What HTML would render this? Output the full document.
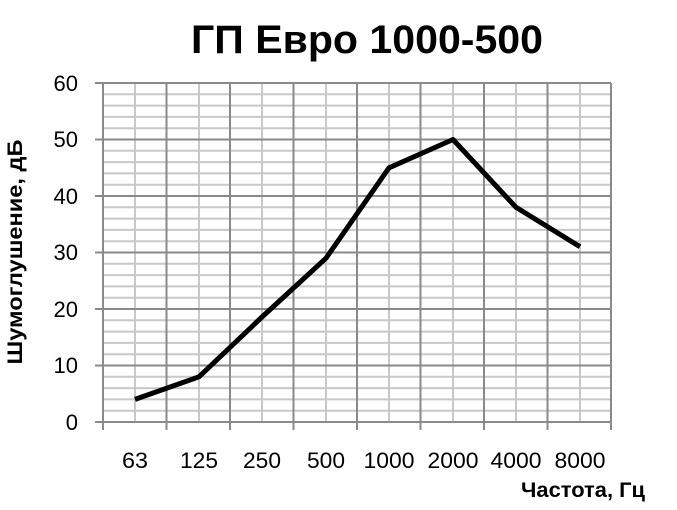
<!DOCTYPE html>
<html><head><meta charset="utf-8"><style>body{margin:0;background:#fff}svg{display:block}</style></head><body>
<svg width="677" height="510" xmlns="http://www.w3.org/2000/svg" font-family="Liberation Sans, sans-serif">
<text x="367" y="53" font-size="40" font-weight="bold" text-anchor="middle" textLength="352" lengthAdjust="spacingAndGlyphs">ГП Евро 1000-500</text>
<g stroke="#c8c8c8" stroke-width="2">
<line x1="103" x2="611" y1="94.3" y2="94.3"/><line x1="103" x2="611" y1="105.6" y2="105.6"/><line x1="103" x2="611" y1="116.9" y2="116.9"/><line x1="103" x2="611" y1="128.2" y2="128.2"/>
<line x1="103" x2="611" y1="150.8" y2="150.8"/><line x1="103" x2="611" y1="162.1" y2="162.1"/><line x1="103" x2="611" y1="173.4" y2="173.4"/><line x1="103" x2="611" y1="184.7" y2="184.7"/>
<line x1="103" x2="611" y1="207.3" y2="207.3"/><line x1="103" x2="611" y1="218.6" y2="218.6"/><line x1="103" x2="611" y1="229.9" y2="229.9"/><line x1="103" x2="611" y1="241.2" y2="241.2"/>
<line x1="103" x2="611" y1="263.8" y2="263.8"/><line x1="103" x2="611" y1="275.1" y2="275.1"/><line x1="103" x2="611" y1="286.4" y2="286.4"/><line x1="103" x2="611" y1="297.7" y2="297.7"/>
<line x1="103" x2="611" y1="320.3" y2="320.3"/><line x1="103" x2="611" y1="331.6" y2="331.6"/><line x1="103" x2="611" y1="342.9" y2="342.9"/><line x1="103" x2="611" y1="354.2" y2="354.2"/>
<line x1="103" x2="611" y1="376.8" y2="376.8"/><line x1="103" x2="611" y1="388.1" y2="388.1"/><line x1="103" x2="611" y1="399.4" y2="399.4"/><line x1="103" x2="611" y1="410.7" y2="410.7"/>
<line y1="83" y2="422" x1="135" x2="135"/><line y1="83" y2="422" x1="199" x2="199"/><line y1="83" y2="422" x1="262" x2="262"/><line y1="83" y2="422" x1="326" x2="326"/><line y1="83" y2="422" x1="389" x2="389"/><line y1="83" y2="422" x1="453" x2="453"/><line y1="83" y2="422" x1="516" x2="516"/><line y1="83" y2="422" x1="580" x2="580"/>
</g>
<g stroke="#8a8a8a" stroke-width="2">
<line x1="95" x2="611" y1="83" y2="83"/><line x1="95" x2="611" y1="139.5" y2="139.5"/><line x1="95" x2="611" y1="196" y2="196"/><line x1="95" x2="611" y1="252.5" y2="252.5"/><line x1="95" x2="611" y1="309" y2="309"/><line x1="95" x2="611" y1="365.5" y2="365.5"/><line x1="95" x2="611" y1="422" y2="422"/>
<line y1="83" y2="430" x1="103" x2="103"/><line y1="83" y2="430" x1="166.5" x2="166.5"/><line y1="83" y2="430" x1="230" x2="230"/><line y1="83" y2="430" x1="293.5" x2="293.5"/><line y1="83" y2="430" x1="357" x2="357"/><line y1="83" y2="430" x1="420.5" x2="420.5"/><line y1="83" y2="430" x1="484" x2="484"/><line y1="83" y2="430" x1="547.5" x2="547.5"/><line y1="83" y2="430" x1="611" x2="611"/>
</g>
<polyline fill="none" stroke="#000" stroke-width="5" stroke-linejoin="round" points="135,399.4 199,376.8 262,317 326,258.2 389,167.8 453,139.5 516,207.3 580,246.8"/>
<g font-size="22" text-anchor="end">
<text x="78" y="91">60</text><text x="78" y="147">50</text><text x="78" y="204">40</text><text x="78" y="260">30</text><text x="78" y="317">20</text><text x="78" y="373">10</text><text x="78" y="430">0</text>
</g>
<g font-size="22" text-anchor="middle">
<text x="135" y="468" textLength="26" lengthAdjust="spacingAndGlyphs">63</text><text x="199" y="468" textLength="38" lengthAdjust="spacingAndGlyphs">125</text><text x="262" y="468" textLength="38" lengthAdjust="spacingAndGlyphs">250</text><text x="326" y="468" textLength="38" lengthAdjust="spacingAndGlyphs">500</text><text x="389" y="468" textLength="51" lengthAdjust="spacingAndGlyphs">1000</text><text x="453" y="468" textLength="51" lengthAdjust="spacingAndGlyphs">2000</text><text x="516" y="468" textLength="51" lengthAdjust="spacingAndGlyphs">4000</text><text x="580" y="468" textLength="51" lengthAdjust="spacingAndGlyphs">8000</text>
</g>
<text x="645" y="497" font-size="21" font-weight="bold" text-anchor="end" textLength="124" lengthAdjust="spacingAndGlyphs">Частота, Гц</text>
<text transform="translate(22,252) rotate(-90)" font-size="21" font-weight="bold" text-anchor="middle" textLength="225" lengthAdjust="spacingAndGlyphs">Шумоглушение, дБ</text>
</svg>
</body></html>
